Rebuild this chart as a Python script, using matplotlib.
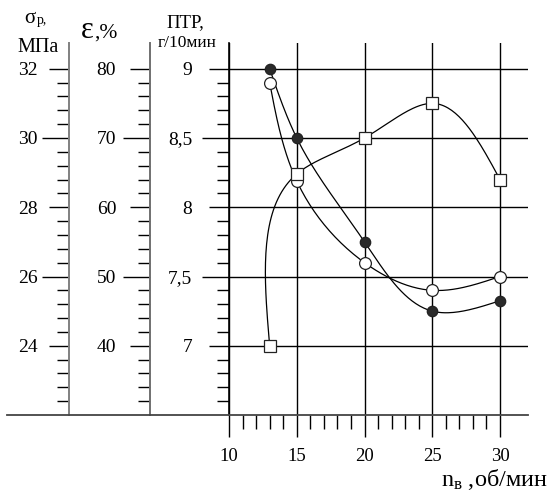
import numpy as np
import matplotlib
matplotlib.use('Agg')
import matplotlib.pyplot as plt
from matplotlib.lines import Line2D
from matplotlib.ticker import FixedLocator

plt.rcParams['font.family'] = ['Liberation Serif', 'DejaVu Serif']
plt.rcParams['mathtext.fontset'] = 'custom'
plt.rcParams['mathtext.rm'] = 'Liberation Serif'
plt.rcParams['mathtext.it'] = 'Liberation Serif:italic'

# data
n_v = [13, 15, 20, 25, 30]                 # об/мин
sigma_r = [32.0, 30.0, 27.0, 25.0, 25.3]   # МПа, filled circles
eps = [78.0, 63.8, 52.0, 48.0, 50.0]       # %, open circles
ptr = [7.0, 8.24, 8.5, 8.75, 8.2]          # г/10мин, squares

W, H = 550, 492
fig = plt.figure(figsize=(5.5, 4.92), dpi=100)


def fx(px):
    return px / W


def fy(py):
    return 1 - py / H


left, right, top, bot = 229, 528, 43, 415
ax = fig.add_axes([fx(left), fy(bot), fx(right) - fx(left), fy(top) - fy(bot)])
px_x = 13.55   # px per об/мин
px_y = 138.5   # px per г/10мин
ax.set_xlim(10, 10 + (right - left) / px_x)
ax.set_ylim(6.5, 6.5 + (bot - top) / px_y)


def s2p(s):
    return 7 + (np.asarray(s) - 24) / 4.0


def p2s(p):
    return 24 + (np.asarray(p) - 7) * 4.0


def e2p(e):
    return 7 + (np.asarray(e) - 40) / 20.0


def p2e(p):
    return 40 + (np.asarray(p) - 7) * 20.0


def smooth(x, y, k=40):
    # parametric natural cubic spline through the points (pixel scaled)
    X = np.asarray(x, float) * px_x
    Y = np.asarray(y, float) * px_y
    t = np.concatenate([[0], np.cumsum(np.hypot(np.diff(X), np.diff(Y)))])
    n = len(t)
    h = np.diff(t)
    out = []
    for V in (X, Y):
        A = np.zeros((n, n))
        b = np.zeros(n)
        A[0, 0] = A[-1, -1] = 1
        for i in range(1, n - 1):
            A[i, i - 1] = h[i - 1]
            A[i, i] = 2 * (h[i - 1] + h[i])
            A[i, i + 1] = h[i]
            b[i] = 6 * ((V[i + 1] - V[i]) / h[i] - (V[i] - V[i - 1]) / h[i - 1])
        M = np.linalg.solve(A, b)
        pts = []
        for i in range(n - 1):
            tt = np.linspace(t[i], t[i + 1], k)
            a = t[i + 1] - tt
            c = tt - t[i]
            pts.append(M[i] * a ** 3 / (6 * h[i]) + M[i + 1] * c ** 3 / (6 * h[i])
                       + (V[i] / h[i] - M[i] * h[i] / 6) * a
                       + (V[i + 1] / h[i] - M[i + 1] * h[i] / 6) * c)
        out.append(np.concatenate(pts))
    return out[0] / px_x, out[1] / px_y


for vals, mk, fc, ms in [(s2p(sigma_r), 'o', '#2a2a2a', 7.5),
                         (e2p(eps), 'o', 'white', 8.5),
                         (np.asarray(ptr), 's', 'white', 8)]:
    cx, cy = smooth(n_v, vals)
    ax.plot(cx, cy, color='black', lw=0.9, zorder=3)
    ax.plot(n_v, vals, ls='none', marker=mk, mfc=fc, mec='#222222', mew=0.9,
            ms=ms, zorder=4)

SHORT, LONG = 14.4, 19.4


def alt_lengths(axis):
    # every second labelled tick is drawn longer, as in the original
    for i, tk in enumerate(axis.get_major_ticks()):
        tk.tick1line.set_markersize(LONG if i % 2 == 1 else SHORT)


# main (ПТР) axis
for sp in ['top', 'right', 'bottom']:
    ax.spines[sp].set_visible(False)
ax.spines['left'].set_linewidth(1.2)
ax.yaxis.set_major_locator(FixedLocator([7, 7.5, 8, 8.5, 9]))
ax.set_yticklabels(['7', '7,5', '8', '8,5', '9'])
ax.yaxis.set_minor_locator(FixedLocator(np.arange(6.6, 9.05, 0.1)))
ax.xaxis.set_major_locator(FixedLocator([10, 15, 20, 25, 30]))
ax.xaxis.set_minor_locator(FixedLocator(range(11, 30)))
ax.tick_params(axis='y', which='major', length=SHORT, width=1.0, pad=12.2, labelsize=14)
ax.tick_params(axis='y', which='minor', length=9, width=1.0)
ax.tick_params(axis='x', which='major', length=16, width=1.0, pad=8, labelsize=13.5)
ax.tick_params(axis='x', which='minor', length=10, width=1.0)
ax.grid(True, which='major', color='black', lw=1.0)
ax.set_facecolor('none')
fig.canvas.draw()
alt_lengths(ax.yaxis)

# σр and ε axes
for loc, fwd, inv, majors, minors, col, pad in [
        (-(left - 69) / (right - left), p2s, s2p, [24, 26, 28, 30, 32],
         np.arange(22.4, 31.7, 0.4), '#808080', 15.5),
        (-(left - 150) / (right - left), p2e, e2p, [40, 50, 60, 70, 80],
         np.arange(32, 79, 2), '#707070', 17)]:
    sec = ax.secondary_yaxis(loc, functions=(fwd, inv))
    sec.spines['left'].set_color(col)
    sec.spines['left'].set_linewidth(1.4)
    sec.yaxis.set_major_locator(FixedLocator(majors))
    sec.yaxis.set_minor_locator(FixedLocator(minors))
    sec.tick_params(which='major', length=SHORT, width=1.0, pad=pad, labelsize=14)
    sec.tick_params(which='minor', length=9, width=1.0)
    fig.canvas.draw()
    for lab in sec.get_yticklabels():
        lab.set_horizontalalignment('center')
    alt_lengths(sec.yaxis)

# long bottom baseline
fig.add_artist(Line2D([fx(7), fx(right)], [fy(bot), fy(bot)], color='#444444', lw=1.3))

# axis titles
fig.text(fx(24), fy(23), 'σ', ha='left', va='baseline', fontsize=15)
fig.text(fx(37), fy(24), 'р,', ha='left', va='baseline', fontsize=10)
fig.text(fx(38), fy(52), 'МПа', ha='center', va='baseline', fontsize=14.5)
fig.text(fx(81), fy(38), 'ε', ha='left', va='baseline', fontsize=22)
fig.text(fx(94), fy(38), ',%', ha='left', va='baseline', fontsize=15.5)
fig.text(fx(185), fy(27), 'ПТР,', ha='center', va='baseline', fontsize=13.5)
fig.text(fx(187), fy(47), 'г/10мин', ha='center', va='baseline', fontsize=12.5)
fig.text(fx(548), fy(486), 'n$_{\\mathrm{в}}$ ,об/мин', ha='right', va='baseline',
         fontsize=17.5)

fig.savefig('out.png', dpi=100)
